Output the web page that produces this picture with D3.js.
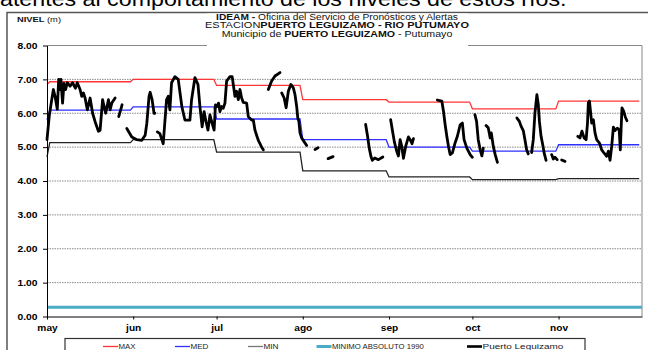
<!DOCTYPE html>
<html>
<head>
<meta charset="utf-8">
<title>Nivel Puerto Leguizamo - Rio Putumayo</title>
<script src="https://d3js.org/d3.v7.min.js"></script>
<style>
body { margin: 0; background: #fff; }
svg { display: block; font-family: "Liberation Sans", Arial, sans-serif; }
</style>
</head>
<body>
<div id="chart"></div>
<script>
// meses del eje x (1 de cada mes)
var meses = ["may", "jun", "jul", "ago", "sep", "oct", "nov"];
var yTicks = [0, 1, 2, 3, 4, 5, 6, 7, 8];

// niveles mensuales historicos (m)
var nivelMax = [6.93, 7.00, 6.82, 6.40, 6.33, 6.13, 6.36];
var nivelMed = [6.09, 6.19, 5.83, 5.22, 5.00, 4.88, 5.07];
var nivelMin = [5.13, 5.22, 4.85, 4.30, 4.12, 4.04, 4.07];
// valor del 1 de mayo
var primerMax = 6.85, primerMed = 5.81, primerMin = 4.71;
var minimoAbsoluto = 0.27;

// Puerto Leguizamo: tramos con dato, [dia desde 1 may, nivel m]
var lecturas = [
  [[0,5.22],[0.8,5.91],[1.7,6.40],[2.3,6.70],[2.9,6.50],[3.7,6.12],[4.2,7.00],[4.7,6.70],[5.0,7.00],[5.6,6.30],[6.1,6.88],[6.7,6.70],[7.3,6.90],[8.3,6.80],[9.2,6.90],[10.2,6.74],[10.9,6.90],[11.9,6.70],[12.5,6.50],[13.1,6.60],[13.7,6.45],[14.5,6.10],[15.5,6.45],[16.4,6.00],[17.3,5.75],[18.5,5.47],[19.1,5.50],[20.0,6.40],[21.1,6.00],[22.1,6.40],[22.7,6.10],[23.3,6.30],[24.5,6.45]],
  [[25.8,5.90],[27.0,6.25]],
  [[28.7,5.55],[30.5,5.30],[32.3,5.22],[34.1,5.20],[35.3,5.35],[35.9,5.70],[36.7,6.50],[37.1,6.62],[37.8,6.40],[38.5,6.00],[38.8,6.00]],
  [[39.7,5.45],[40.6,5.40],[41.8,5.10],[43.0,6.40],[43.6,6.50],[44.2,6.10],[44.8,6.90],[46.0,7.08],[47.2,7.00],[48.5,6.20],[49.6,5.80],[51.4,5.80],[52.0,6.40],[53.2,7.05],[54.3,6.85],[55.0,6.20],[55.8,5.60],[56.5,6.05],[57.2,5.75],[57.9,5.50],[58.6,5.95],[59.4,5.70],[60.1,5.50],[60.6,6.25],[61.2,6.20],[61.7,6.30],[62.2,6.05],[62.8,6.20],[63.4,6.15],[64.0,6.30],[64.6,6.95],[65.8,7.08],[66.6,7.08],[67.0,6.85],[67.6,6.50],[68.2,6.65],[68.8,6.40],[69.4,6.70],[70.0,6.45],[70.6,6.32],[71.8,6.30],[72.4,5.90],[73.6,5.80],[74.2,5.80],[74.8,5.50],[75.6,5.30],[76.0,5.20],[76.6,5.10],[77.2,5.00],[77.8,4.92]],
  [[79.6,6.70],[80.8,6.95],[82.0,7.10],[83.8,7.20]],
  [[84.4,6.60],[85.3,6.45],[86.0,6.16],[86.8,6.65],[87.7,6.85],[88.6,6.75],[89.2,6.55],[89.8,6.20],[90.2,5.86],[90.6,5.76],[91.0,5.42],[91.6,5.27],[92.4,5.17],[93.4,5.05]],
  [[96.4,4.93],[97.5,4.98]],
  [[101.1,4.66],[102.9,4.72]],
  [[114.6,5.67],[115.3,5.32],[115.9,4.97],[116.5,4.73],[117.0,4.61],[117.9,4.68],[119.2,4.63],[120.8,4.71]],
  [[123.6,5.81],[124.3,5.46],[124.9,5.17],[125.8,4.87],[126.4,4.74],[127.0,5.22],[127.6,5.02],[128.2,4.67],[129.0,5.02],[130.0,5.30],[130.6,5.22],[131.3,5.10],[131.8,5.25]],
  [[140.4,6.39],[142.0,6.36],[142.6,6.06],[143.2,5.66],[143.8,5.32],[144.4,5.02],[145.0,4.78],[145.8,4.83],[146.8,5.13],[147.6,5.32],[148.6,5.66],[149.4,5.71],[150.0,5.22],[151.0,4.97],[152.2,4.78],[153.0,4.70]],
  [[153.9,5.96],[154.5,5.76],[155.1,5.22],[155.8,4.92],[156.4,4.74],[156.9,4.97]],
  [[157.9,5.64],[158.7,5.57],[159.4,5.27],[159.8,5.42],[160.5,5.03],[161.2,4.78],[162.0,4.55]],
  [[169.0,5.86],[169.9,5.76],[170.5,5.62],[171.3,5.49],[171.9,5.22],[172.5,4.92],[173.1,4.80]],
  [[174.3,4.84],[174.9,5.22],[175.5,6.01],[176.2,6.55],[176.7,6.26],[177.1,5.76],[177.7,5.32],[178.3,5.07],[178.8,4.83],[179.5,4.61]],
  [[181.5,4.78],[182.1,4.65],[182.7,4.70],[183.5,4.63]],
  [[185.1,4.62],[186.3,4.58]],
  [[190.9,5.32],[191.7,5.27],[192.4,5.47],[193.2,5.27],[193.9,5.22],[194.4,5.71],[194.7,6.31],[195.1,6.36],[195.6,5.96],[195.9,5.71],[196.5,5.81],[197.1,5.42],[197.7,5.22],[198.7,5.12],[199.5,4.92],[200.4,4.82],[201.3,4.73],[201.9,4.88],[202.5,4.61],[203.1,5.02],[203.7,5.59],[204.3,5.49],[205.1,5.56],[205.8,5.51],[206.2,4.92],[206.5,5.56],[206.8,6.16],[207.4,6.06],[208.0,5.89],[208.6,5.78]]
];

var anio = 2010;
var W = 648, H = 350;
var plotL = 47, plotR = 642, plotT = 45.5, plotB = 316.5;

function fecha(dia) {
  return new Date(Date.UTC(anio, 4, 1) + dia * 864e5);
}

// serie escalonada: un valor por mes, rampa de un dia entre meses
function escalon(vals, v0) {
  var pts = [[fecha(0), v0]];
  vals.forEach(function(v, i) {
    pts.push([new Date(Date.UTC(anio, 4 + i, i === 0 ? 2 : 1)), v]);
    pts.push([new Date(Date.UTC(anio, 5 + i, 0)), v]);
  });
  return pts;
}

var svg = d3.select("#chart").append("svg")
  .attr("width", W)
  .attr("height", H);

var x = d3.scaleUtc()
  .domain([new Date(Date.UTC(anio, 4, 1)), new Date(Date.UTC(anio, 11, 1))])
  .range([plotL, plotR]);
var y = d3.scaleLinear()
  .domain([0, 8])
  .range([plotB, plotT]);

// estira un texto en horizontal hasta el ancho medido en la imagen
function estirar(t, ancho) {
  var w = t.node().getComputedTextLength();
  t.attr("transform", "scale(" + (ancho / w) + ",1)");
}

// texto del documento, cortado arriba
var frase = svg.append("g").attr("transform", "translate(0,6)")
  .append("text")
    .attr("x", 0)
    .style("font-size", "21px")
    .text("atentes al comportamiento de los niveles de estos ríos.");
estirar(frase, 567);

// marco exterior del grafico
svg.append("path")
  .attr("d", "M7,350V12.5H648")
  .attr("fill", "none")
  .attr("stroke", "#555")
  .attr("stroke-width", 1.5);

// lineas de division punteadas
svg.append("g").selectAll("line")
  .data(yTicks.slice(1, -1))
  .join("line")
    .attr("x1", plotL).attr("x2", plotR)
    .attr("y1", function(d) { return y(d); })
    .attr("y2", function(d) { return y(d); })
    .attr("stroke", "#8a8a8a")
    .attr("stroke-dasharray", "1.5,1");

// borde del area de trazado
svg.append("path")
  .attr("d", "M" + plotL + "," + y(8) + "H" + plotR + "V" + plotB)
  .attr("fill", "none")
  .attr("stroke", "#888");

// series historicas
var linea = d3.line()
  .x(function(d) { return x(d[0]); })
  .y(function(d) { return y(d[1]); });

svg.append("path")
  .datum([[fecha(0), minimoAbsoluto], [x.domain()[1], minimoAbsoluto]])
  .attr("d", linea)
  .attr("fill", "none")
  .attr("stroke", "#4bacc6")
  .attr("stroke-width", 3);

var historicos = [
  {vals: nivelMin, v0: primerMin, color: "#222"},
  {vals: nivelMed, v0: primerMed, color: "#2f2fff"},
  {vals: nivelMax, v0: primerMax, color: "#ff3434"}
];
historicos.forEach(function(h) {
  svg.append("path")
    .datum(escalon(h.vals, h.v0))
    .attr("d", linea)
    .attr("fill", "none")
    .attr("stroke", h.color)
    .attr("stroke-width", 1.3);
});

// nivel observado
var lineaObs = d3.line()
  .x(function(d) { return x(fecha(d[0])); })
  .y(function(d) { return y(d[1]); });

svg.append("g").selectAll("path")
  .data(lecturas)
  .join("path")
    .attr("d", lineaObs)
    .attr("fill", "none")
    .attr("stroke", "#000")
    .attr("stroke-width", 2.8)
    .attr("stroke-linejoin", "round")
    .attr("stroke-linecap", "round");

// ejes
var yAxis = svg.append("g")
  .attr("transform", "translate(" + plotL + ",0)")
  .call(d3.axisLeft(y).tickValues(yTicks).tickSizeInner(4).tickSizeOuter(0)
    .tickFormat(d3.format(".2f")));
var xAxis = svg.append("g")
  .attr("transform", "translate(0," + plotB + ")")
  .call(d3.axisBottom(x)
    .tickValues(meses.map(function(m, i) { return new Date(Date.UTC(anio, 4 + i, 1)); }))
    .tickSizeInner(3).tickSizeOuter(0)
    .tickFormat(function(d, i) { return meses[i]; }));

[yAxis, xAxis].forEach(function(a) {
  a.select(".domain").attr("stroke", "#000");
  a.selectAll(".tick line").attr("stroke", "#000");
  a.selectAll("text")
    .style("font-family", "'Liberation Sans', Arial, sans-serif")
    .style("font-weight", "bold")
    .style("font-size", "8.6px")
    .attr("fill", "#000");
});
yAxis.selectAll("text")
  .attr("x", 0)
  .attr("transform", "translate(-9.5,0) scale(1.2,1)");
xAxis.selectAll("text")
  .attr("y", 0).attr("dy", 0)
  .attr("transform", "translate(0,14.7) scale(1.18,1)");

// titulo (fondo blanco sobre el borde)
svg.append("rect")
  .attr("x", 207).attr("y", 13.5)
  .attr("width", 261).attr("height", 33)
  .attr("fill", "#fff");

var titulo = [
  {y: 19.5, ancho: 242, partes: [["IDEAM - ", true], ["Oficina del Servicio de Pronósticos y Alertas", false]]},
  {y: 28, ancho: 264, partes: [["ESTACION", false], ["PUERTO LEGUIZAMO -  RIO PUTUMAYO", true]]},
  {y: 36.5, ancho: 231, partes: [["Municipio de ", false], ["PUERTO LEGUIZAMO", true], [" - Putumayo", false]]}
];
titulo.forEach(function(l) {
  var t = svg.append("g").attr("transform", "translate(337," + l.y + ")")
    .append("text")
      .attr("text-anchor", "middle")
      .style("font-size", "8.6px")
      .attr("fill", "#111");
  l.partes.forEach(function(p) {
    t.append("tspan").text(p[0]).style("font-weight", p[1] ? "bold" : "normal");
  });
  estirar(t, l.ancho);
});

var nivel = svg.append("g").attr("transform", "translate(17,21.7)")
  .append("text")
    .style("font-size", "7.2px")
    .attr("fill", "#111");
nivel.append("tspan").text("NIVEL ").style("font-weight", "bold");
nivel.append("tspan").text("(m)");
estirar(nivel, 44);

// leyenda
svg.append("rect")
  .attr("x", 65).attr("y", 338.5)
  .attr("width", 520).attr("height", 20)
  .attr("fill", "#fff")
  .attr("stroke", "#333")
  .attr("stroke-width", 1.2);

var leyenda = [
  {nombre: "MAX", x: 103, ancho: 17, color: "#ff3434", grosor: 1.3},
  {nombre: "MED", x: 175, ancho: 18, color: "#2f2fff", grosor: 1.3},
  {nombre: "MIN", x: 248, ancho: 15, color: "#777", grosor: 1.3},
  {nombre: "MINIMO ABSOLUTO 1990", x: 316.5, ancho: 92, color: "#4bacc6", grosor: 3},
  {nombre: "Puerto Leguizamo", x: 467, ancho: 81, color: "#000", grosor: 2.6}
];
var item = svg.append("g").selectAll("g")
  .data(leyenda)
  .join("g")
    .attr("transform", function(d) { return "translate(" + d.x + ",346.5)"; });
item.append("line")
  .attr("x1", 0).attr("x2", 15)
  .attr("stroke", function(d) { return d.color; })
  .attr("stroke-width", function(d) { return d.grosor; });
item.append("g").attr("transform", "translate(15.5,2.3)")
  .append("text")
    .style("font-size", "7px")
    .attr("fill", "#222")
    .text(function(d) { return d.nombre; })
    .each(function(d) { estirar(d3.select(this), d.ancho); });
</script>
</body>
</html>
